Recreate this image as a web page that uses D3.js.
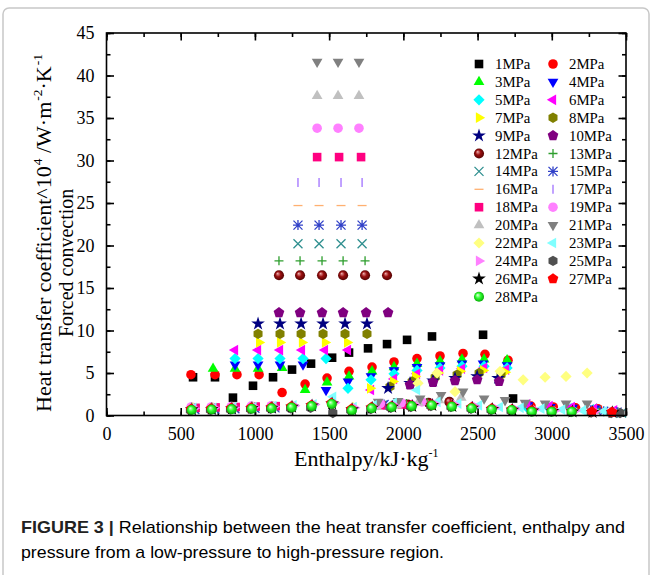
<!DOCTYPE html>
<html>
<head>
<meta charset="utf-8">
<script src="https://cdn.jsdelivr.net/npm/d3@7"></script>
<style>
body { margin: 0; background: #fff; }
svg text { font-family: 'Liberation Serif', 'Times New Roman', serif; fill: #000; }
svg text.caption { font-family: 'Liberation Sans', Arial, sans-serif; }
</style>
</head>
<body>
<svg id="chart" width="655" height="575"></svg>
<script>
// legend labels
var pressures = ["1MPa", "2MPa", "3MPa", "4MPa", "5MPa", "6MPa", "7MPa", "8MPa", "9MPa", "10MPa",
    "12MPa", "13MPa", "14MPa", "15MPa", "16MPa", "17MPa", "18MPa", "19MPa", "20MPa", "21MPa",
    "22MPa", "23MPa", "24MPa", "25MPa", "26MPa", "27MPa", "28MPa"];

var xTicks = [0, 500, 1000, 1500, 2000, 2500, 3000, 3500];
var yTicks = [0, 5, 10, 15, 20, 25, 30, 35, 40, 45];

// enthalpy (kJ/kg) and heat transfer coefficient (x10^4 W/m2K)
var h1 = [583, 731, 852, 987, 1122, 1250, 1378, 1520, 1634, 1762, 1890, 2025, 2193, 2537, 2739];
var k1 = [4.5, 4.5, 2.1, 3.5, 4.5, 5.4, 6.1, 6.8, 7.4, 7.9, 8.4, 8.9, 9.3, 9.5, 2.0];
var h2 = [569, 731, 879, 1028, 1183, 1338, 1486, 1634, 1789, 1937, 2092, 2247, 2402, 2550, 2705, 2860, 3010, 3160, 3310];
var k2 = [4.8, 4.8, 4.8, 4.8, 2.7, 3.7, 4.4, 5.2, 5.7, 6.3, 6.7, 7.0, 7.3, 7.2, 6.5, 1.1, 1.0, 0.9, 0.8];
var h3 = [718, 866, 1021, 1183, 1338, 1486, 1634, 1789, 1937, 2092, 2247, 2395, 2544, 2699, 2850, 3000, 3150, 3300];
var k3 = [5.5, 5.5, 5.5, 5.6, 3.0, 3.9, 4.6, 5.2, 5.7, 6.1, 6.4, 6.6, 6.6, 6.5, 1.0, 0.9, 0.8, 0.7];
var h4 = [866, 1021, 1169, 1324, 1479, 1627, 1782, 1937, 2092, 2247, 2395, 2537, 2699, 2840, 2990, 3140, 3290];
var k4 = [6.0, 6.0, 6.0, 6.0, 3.0, 4.0, 4.6, 5.3, 5.7, 5.9, 6.1, 6.1, 5.9, 1.2, 1.0, 0.9, 0.8];
var h5 = [866, 1021, 1169, 1324, 1479, 1627, 1782, 1937, 2092, 2247, 2395, 2544, 2699, 2830, 2980, 3130, 3280];
var k5 = [6.7, 6.7, 6.7, 6.7, 6.7, 3.2, 4.2, 4.9, 5.3, 5.6, 5.8, 5.8, 5.6, 1.0, 0.9, 0.8, 0.7];
var h6 = [866, 1021, 1169, 1317, 1472, 1627, 1782, 1937, 2092, 2247, 2395, 2544, 2692, 2835, 2985, 3135, 3285, 3420];
var k6 = [7.7, 7.7, 7.7, 7.7, 7.7, 7.7, 3.0, 4.3, 4.9, 5.3, 5.5, 5.6, 5.4, 1.3, 1.1, 1.0, 0.8, 0.6];
var h7 = [1028, 1169, 1317, 1472, 1621, 1776, 1930, 2079, 2234, 2382, 2537, 2685];
var k7 = [8.6, 8.6, 8.6, 8.6, 8.6, 3.2, 4.0, 4.6, 5.0, 5.2, 5.3, 5.1];
var h8 = [1021, 1169, 1311, 1459, 1607, 1755, 1910, 2059, 2214, 2362, 2510, 2658];
var k8 = [9.6, 9.6, 9.6, 9.6, 9.6, 9.6, 3.4, 4.0, 4.5, 4.8, 5.0, 4.8];
var h9 = [1021, 1169, 1311, 1459, 1607, 1755, 1897, 2045, 2200, 2348, 2497, 2638];
var k9 = [10.8, 10.8, 10.8, 10.8, 10.8, 10.8, 3.2, 3.8, 4.1, 4.4, 4.6, 4.4];
var h10 = [1162, 1304, 1452, 1594, 1749, 1897, 2045, 2200, 2348, 2497, 2645];
var k10 = [12.1, 12.1, 12.1, 12.1, 12.1, 12.1, 3.6, 3.9, 4.1, 4.2, 4.0];
var h12 = [575, 710, 845, 980, 1162, 1304, 1452, 1594, 1742, 1890, 2030, 2170, 2310];
var k12 = [0.9, 0.9, 0.95, 1.0, 16.5, 16.5, 16.5, 16.5, 16.5, 16.5, 1.3, 1.5, 1.6];
var h13 = [580, 715, 850, 985, 1162, 1304, 1452, 1594, 1742, 1880, 2020, 2160];
var k13 = [0.8, 0.85, 0.9, 0.95, 18.2, 18.2, 18.2, 18.2, 18.2, 1.2, 1.4, 1.5];
var h14 = [590, 725, 860, 995, 1130, 1290, 1432, 1580, 1722, 1860, 3300, 3420, 3470];
var k14 = [0.8, 0.85, 0.9, 0.95, 1.0, 20.2, 20.2, 20.2, 20.2, 1.2, 0.6, 0.4, 0.3];
var h15 = [595, 730, 865, 1000, 1135, 1290, 1432, 1580, 1722, 1870, 3350, 3440];
var k15 = [0.7, 0.75, 0.8, 0.85, 0.9, 22.4, 22.4, 22.4, 22.4, 1.3, 0.5, 0.4];
var h16 = [1290, 1432, 1580, 1722];
var k16 = [24.7, 24.7, 24.7, 24.7];
var h17 = [1290, 1432, 1580, 1722];
var k17 = [27.4, 27.4, 27.4, 27.4];
var h18 = [600, 735, 870, 1005, 1140, 1419, 1567, 1715, 1850, 1990];
var k18 = [0.9, 0.95, 1.0, 1.05, 1.1, 30.4, 30.4, 30.4, 1.2, 1.3];
var h19 = [570, 705, 840, 975, 1110, 1419, 1560, 1701, 1845, 1985, 2125];
var k19 = [1.0, 1.0, 1.05, 1.1, 1.15, 33.8, 33.8, 33.8, 1.4, 1.5, 1.6];
var h20 = [1419, 1560, 1701, 1820, 1955, 2100, 2240, 2390];
var k20 = [37.6, 37.6, 37.6, 1.0, 1.2, 1.5, 1.8, 2.1];
var h21 = [1419, 1560, 1701, 1830, 1964, 2113, 2254, 2402, 2544, 2685, 2820, 2955, 3096, 3238];
var k21 = [41.6, 41.6, 41.6, 1.6, 1.7, 2.0, 2.4, 2.8, 2.0, 1.8, 1.5, 1.4, 1.4, 1.4];
var h22 = [580, 715, 850, 985, 1120, 1255, 1390, 1525, 1660, 2099, 2227, 2348, 2652, 2807, 2955, 3096, 3238];
var k22 = [0.9, 0.9, 0.95, 1.0, 1.05, 1.1, 1.2, 1.4, 1.0, 3.8, 5.0, 2.8, 5.2, 4.2, 4.5, 4.6, 5.0];
var h23 = [585, 720, 855, 990, 1125, 1260, 1395, 1527, 1665, 1800, 1935, 2092, 2230, 2370, 2510, 2650, 2790, 2930, 3070, 3210, 3350];
var k23 = [0.9, 0.9, 1.0, 1.0, 1.1, 1.2, 1.3, 2.2, 1.0, 1.2, 1.5, 3.0, 1.6, 1.4, 1.2, 1.0, 0.9, 0.8, 0.7, 0.6, 0.5];
var h24 = [590, 725, 860, 995, 1130, 1265, 1400, 1535, 1670, 1805, 1940, 2075, 2210, 2345, 2480, 2615, 2750, 2885, 3020, 3155, 3290, 3425];
var k24 = [0.85, 0.9, 0.95, 1.0, 1.05, 1.15, 1.3, 1.5, 0.9, 1.0, 1.2, 1.3, 1.4, 1.3, 1.1, 0.9, 0.8, 0.7, 0.6, 0.55, 0.5, 0.45];
var h25 = [565, 700, 835, 970, 1105, 1240, 1375, 1525, 1645, 1780, 1915, 2050, 2185, 2320, 2455, 2590, 2725, 2860, 2995, 3130, 3265, 3400, 3460];
var k25 = [0.6, 0.65, 0.7, 0.75, 0.8, 0.85, 0.9, 0.3, 0.6, 0.75, 0.9, 1.0, 1.1, 1.0, 0.8, 0.65, 0.55, 0.5, 0.45, 0.4, 0.35, 0.3, 0.3];
var h26 = [575, 710, 845, 980, 1115, 1250, 1385, 1520, 1655, 1790, 1925, 2060, 2195, 2330, 2465, 2600, 2735, 2870, 3005, 3140, 3275, 3410];
var k26 = [0.7, 0.75, 0.8, 0.85, 0.9, 1.0, 1.15, 1.4, 0.7, 0.9, 1.0, 1.1, 1.2, 1.1, 0.9, 0.75, 0.65, 0.55, 0.5, 0.45, 0.4, 0.35];
var h27 = [570, 705, 840, 975, 1110, 1245, 1380, 1515, 1650, 1785, 1920, 2055, 2190, 2325, 2460, 2595, 2730, 2865, 3000, 3135, 3270, 3405];
var k27 = [0.75, 0.8, 0.85, 0.9, 0.95, 1.05, 1.2, 1.45, 0.75, 0.95, 1.05, 1.15, 1.25, 1.15, 0.95, 0.8, 0.7, 0.6, 0.55, 0.5, 0.45, 0.4];
var h28 = [574, 709, 844, 979, 1113, 1248, 1383, 1518, 1653, 1787, 1922, 2057, 2192, 2327, 2461, 2596, 2731, 2866, 3000, 3135];
var k28 = [0.65, 0.7, 0.75, 0.8, 0.85, 0.95, 1.1, 1.35, 0.6, 0.85, 1.0, 1.1, 1.2, 1.05, 0.85, 0.7, 0.65, 0.45, 0.45, 0.45];

var hs = [h1, h2, h3, h4, h5, h6, h7, h8, h9, h10, h12, h13, h14, h15, h16, h17, h18, h19, h20, h21, h22, h23, h24, h25, h26, h27, h28];
var ks = [k1, k2, k3, k4, k5, k6, k7, k8, k9, k10, k12, k13, k14, k15, k16, k17, k18, k19, k20, k21, k22, k23, k24, k25, k26, k27, k28];

// marker style per series (Origin default order)
var shapes = ["square", "circle", "triUp", "triDown", "diamond", "triLeft", "triRight", "hexagon", "star", "pentagon",
    "sphere", "plus", "cross", "asterisk", "dash", "bar", "square", "circle", "triUp", "triDown",
    "diamond", "triLeft", "triRight", "hexagon", "star", "pentagon", "sphere"];
var colors = ["#000000", "#ff0000", "#00ff00", "#0000ff", "#00ffff", "#ff00ff", "#ffff00", "#808000", "#000080", "#800080",
    "#800000", "#2e9e2e", "#2f8f8f", "#3040c8", "#ffb070", "#a070ff", "#ff0080", "#ff80ff", "#c0c0c0", "#808080",
    "#ffff80", "#80ffff", "#ff80ff", "#505050", "#000000", "#ff0000", "#00ff00"];

var W = 655, H = 575;
var margin = {top: 33, right: 29, bottom: 159.5, left: 106.5},
    width = W - margin.left - margin.right,
    height = H - margin.top - margin.bottom;

var svg = d3.select("#chart");

var x = d3.scaleLinear().domain([0, 3500]).range([margin.left, margin.left + width]);
var y = d3.scaleLinear().domain([0, 45]).range([margin.top + height, margin.top]);

// gradients for the sphere markers
var defs = svg.append("defs");
function sphereGrad(id, hi, mid, lo) {
    var g = defs.append("radialGradient").attr("id", id)
        .attr("cx", "50%").attr("cy", "50%").attr("r", "55%")
        .attr("fx", "35%").attr("fy", "32%");
    g.append("stop").attr("offset", "0%").attr("stop-color", hi);
    g.append("stop").attr("offset", "45%").attr("stop-color", mid);
    g.append("stop").attr("offset", "100%").attr("stop-color", lo);
}
sphereGrad("sph-800000", "#f0b0b0", "#9a1010", "#4a0000");
sphereGrad("sph-00ff00", "#e8ffe8", "#33ff33", "#00a000");

// outer figure border
svg.append("rect")
    .attr("x", 3).attr("y", 8).attr("width", 646).attr("height", 600)
    .attr("rx", 6)
    .attr("fill", "none").attr("stroke", "#c8c8c8").attr("stroke-width", 1.5);

function polygon(n, r, rot) {
    var pts = [];
    for (var i = 0; i < n; i++) {
        var a = rot + i * 2 * Math.PI / n;
        pts.push([r * Math.cos(a), r * Math.sin(a)]);
    }
    return "M" + pts.map(function(p) { return p[0].toFixed(2) + "," + p[1].toFixed(2); }).join("L") + "Z";
}

function markerPath(type) {
    var up = -Math.PI / 2;
    switch (type) {
        case "square": return "M-4.3,-4.3H4.3V4.3H-4.3Z";
        case "circle": return d3.symbol(d3.symbolCircle, 72)();
        case "sphere": return d3.symbol(d3.symbolCircle, 80)();
        case "triUp": return polygon(3, 6.2, up);
        case "triDown": return polygon(3, 6.2, -up);
        case "triLeft": return polygon(3, 6.2, Math.PI);
        case "triRight": return polygon(3, 6.2, 0);
        case "diamond": return polygon(4, 5.6, up);
        case "hexagon": return polygon(6, 5.2, up);
        case "pentagon": return polygon(5, 5.6, up);
        case "star": return d3.symbol(d3.symbolStar, 58)();
        case "plus": return "M-4.5,0H4.5M0,-4.5V4.5";
        case "cross": return "M-4.5,-4.5L4.5,4.5M-4.5,4.5L4.5,-4.5";
        case "asterisk": return "M-4.5,-4.5L4.5,4.5M-4.5,4.5L4.5,-4.5M0,-5V5M-5,0H5";
        case "dash": return "M-4.5,0H4.5";
        case "bar": return "M0,-4.5V4.5";
    }
}

function styleMarker(sel, type, color) {
    var lined = ["plus", "cross", "asterisk", "dash", "bar"].indexOf(type) >= 0;
    sel.attr("d", markerPath(type))
        .attr("fill", lined ? "none" : (type === "sphere" ? "url(#sph-" + color.slice(1) + ")" : color))
        .attr("stroke", lined ? color : "none")
        .attr("stroke-width", lined ? 1.3 : 0);
}

// plot frame and axes, ticks pointing inwards
var xMinor = d3.range(0, 3501, 250), yMinor = d3.range(0, 45.1, 2.5);

function addAxis(axis, tx, ty, values, size, labels) {
    axis.tickValues(values).tickSizeInner(-size).tickSizeOuter(0).tickPadding(12)
        .tickFormat(labels ? d3.format("d") : "");
    var g = svg.append("g")
        .attr("transform", "translate(" + tx + "," + ty + ")")
        .call(axis)
        .attr("font-family", "'Liberation Serif', 'Times New Roman', serif")
        .attr("font-size", 18);
    g.select(".domain").remove();
    g.selectAll("line").attr("stroke", "#000").attr("stroke-width", 1.6);
    g.selectAll("text").attr("fill", "#000")
        .style("font-family", "'Liberation Serif', 'Times New Roman', serif");
    return g;
}
addAxis(d3.axisBottom(x), 0, margin.top + height, xMinor, 4, false);
addAxis(d3.axisBottom(x), 0, margin.top + height, xTicks, 7.5, true);
addAxis(d3.axisTop(x), 0, margin.top, xMinor, 4, false);
addAxis(d3.axisTop(x), 0, margin.top, xTicks, 7.5, false);
addAxis(d3.axisLeft(y), margin.left, 0, yMinor, 4, false);
addAxis(d3.axisLeft(y), margin.left, 0, yTicks, 7.5, true);
addAxis(d3.axisRight(y), margin.left + width, 0, yMinor, 4, false);
addAxis(d3.axisRight(y), margin.left + width, 0, yTicks, 7.5, false);

// data points, later series drawn on top
var series = pressures.map(function(p, i) {
    return {name: p, shape: shapes[i], color: colors[i],
        points: hs[i].map(function(h, j) { return {h: h, k: ks[i][j]}; })};
});

var plot = svg.append("g");
series.forEach(function(s) {
    plot.append("g").selectAll("path")
        .data(s.points)
        .enter().append("path")
        .attr("transform", function(d) { return "translate(" + x(d.h) + "," + y(d.k) + ")"; })
        .call(styleMarker, s.shape, s.color);
});

svg.append("rect")
    .attr("x", margin.left).attr("y", margin.top)
    .attr("width", width).attr("height", height)
    .attr("fill", "none").attr("stroke", "#000").attr("stroke-width", 1.6);

// legend, two columns
var legend = svg.append("g");
series.forEach(function(s, i) {
    var col = i % 2, row = Math.floor(i / 2);
    var lx = col === 0 ? 479 : 553, ly = 64 + row * 17.9;
    legend.append("path")
        .attr("transform", "translate(" + lx + "," + ly + ")")
        .call(styleMarker, s.shape, s.color);
    legend.append("text")
        .attr("x", lx + 16).attr("y", ly + 5)
        .style("font-size", "14.8px")
        .text(s.name);
});

// axis titles
var xt = svg.append("text")
    .attr("x", margin.left + width / 2).attr("y", 466)
    .attr("text-anchor", "middle")
    .style("font-size", "22px");
xt.append("tspan").text("Enthalpy/kJ\u00b7kg");
xt.append("tspan").attr("dy", -9).style("font-size", "12px").text("-1");

var yt1 = svg.append("text")
    .attr("transform", "translate(51,412) rotate(-90)")
    .style("font-size", "22px");
yt1.append("tspan").text("Heat transfer coefficient^10");
yt1.append("tspan").attr("dy", -9).attr("dx", 1).style("font-size", "13.5px").text("4");
yt1.append("tspan").attr("dy", 9).text(" /W\u00b7m");
yt1.append("tspan").attr("dy", -9).attr("dx", 1).style("font-size", "13.5px").text("-2");
yt1.append("tspan").attr("dy", 9).text("\u00b7K");
yt1.append("tspan").attr("dy", -9).attr("dx", 1).style("font-size", "13.5px").text("-1");

svg.append("text")
    .attr("transform", "translate(73,337) rotate(-90)")
    .style("font-size", "20px")
    .text("Forced convection");

// figure caption
var cap1 = svg.append("text").attr("class", "caption")
    .attr("x", 21).attr("y", 533)
    .attr("textLength", 604).attr("lengthAdjust", "spacingAndGlyphs")
    .style("font-size", "17px").attr("fill", "#333");
cap1.append("tspan").style("font-weight", "bold").attr("fill", "#222").text("FIGURE 3 | ");
cap1.append("tspan").text("Relationship between the heat transfer coefficient, enthalpy and");
svg.append("text").attr("class", "caption")
    .attr("x", 21).attr("y", 558)
    .attr("textLength", 423).attr("lengthAdjust", "spacingAndGlyphs")
    .style("font-size", "17px").attr("fill", "#333")
    .text("pressure from a low-pressure to high-pressure region.");
</script>
</body>
</html>
